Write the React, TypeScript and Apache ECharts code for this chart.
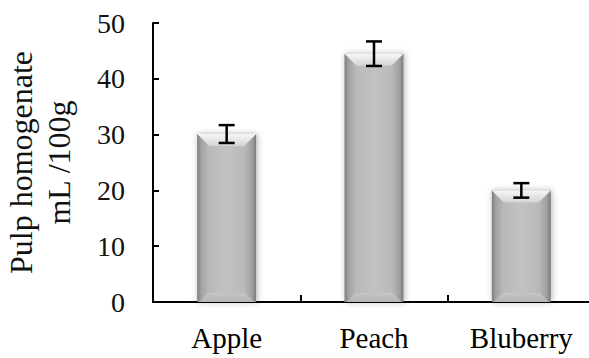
import React, { useEffect, useRef } from "react";
import * as echarts from "echarts";

const categories = ["Apple", "Peach", "Bluberry"];
const values = [30.1, 44.5, 20.0];
const errors = [1.6, 2.2, 1.3];
const yTicks = { min: 0, max: 50, interval: 10 };
const yName = "Pulp homogenate\nmL /100g";

const FONT = "Liberation Serif";

export default function App() {
  const ref = useRef<HTMLDivElement>(null);
  useEffect(() => {
    if (!ref.current) return;
    const chart = echarts.init(ref.current, undefined, { renderer: "svg" });
    const barData = values.map((v, i) => [i, v]);
    const errData = values.map((v, i) => [i, v - errors[i], v + errors[i]]);
    chart.setOption({
      animation: false,
      grid: { left: 153, right: -6, top: 23, bottom: 56, outerBoundsMode: "none", containLabel: false },
      xAxis: {
        type: "category",
        data: categories,
        axisLine: { lineStyle: { color: "#000", width: 2 } },
        axisTick: { show: true, inside: true, length: 7, lineStyle: { color: "#000", width: 2 } },
        axisLabel: { color: "#000", fontFamily: FONT, fontSize: 29, margin: 21 },
      },
      yAxis: {
        type: "value",
        min: yTicks.min,
        max: yTicks.max,
        interval: yTicks.interval,
        name: yName,
        nameLocation: "middle",
        nameRotate: 90,
        nameGap: 75,
        nameTextStyle: { color: "#111", fontFamily: FONT, fontSize: 32, lineHeight: 38 },
        axisLine: { show: true, lineStyle: { color: "#000", width: 2 } },
        axisTick: { show: true, inside: true, length: 6, lineStyle: { color: "#000", width: 2 } },
        axisLabel: { color: "#111", fontFamily: FONT, fontSize: 28, margin: 28 },
        splitLine: { show: false },
      },
      series: [
        {
          type: "custom",
          data: barData,
          renderItem: (params: any, api: any) => {
            const idx = api.value(0);
            const v = api.value(1);
            const top = api.coord([idx, v]);
            const base = api.coord([idx, 0]);
            const w = 59;
            const x0 = top[0] - w / 2;
            const x1 = top[0] + w / 2;
            const y0 = top[1];
            const y1 = base[1];
            const bt = 12;
            const bb = 9;
            return {
              type: "group",
              children: [
                {
                  type: "rect",
                  shape: { x: x0, y: y0, width: w, height: y1 - y0 },
                  style: {
                    fill: new echarts.graphic.LinearGradient(0, 0, 1, 0, [
                      { offset: 0, color: "#7e7e7e" },
                      { offset: 0.07, color: "#a2a2a2" },
                      { offset: 0.2, color: "#b9b9b9" },
                      { offset: 0.5, color: "#c2c2c2" },
                      { offset: 0.8, color: "#b9b9b9" },
                      { offset: 0.93, color: "#a0a0a0" },
                      { offset: 1, color: "#7a7a7a" },
                    ]),
                    shadowBlur: 6,
                    shadowColor: "rgba(0,0,0,0.3)",
                    shadowOffsetX: 1,
                    shadowOffsetY: 0,
                  },
                },
                {
                  type: "polygon",
                  shape: { points: [[x0, y0], [x1, y0], [x1 - bt, y0 + bt], [x0 + bt, y0 + bt]] },
                  style: {
                    fill: new echarts.graphic.LinearGradient(0, 0, 0, 1, [
                      { offset: 0, color: "#f7f7f7" },
                      { offset: 1, color: "#d4d4d4" },
                    ]),
                  },
                },
                {
                  type: "polygon",
                  shape: { points: [[x0 + 2, y1], [x1 - 2, y1], [x1 - bb - 2, y1 - bb], [x0 + bb + 2, y1 - bb]] },
                  style: {
                    fill: new echarts.graphic.LinearGradient(0, 0, 0, 1, [
                      { offset: 0, color: "#c6c6c6" },
                      { offset: 1, color: "#b4b4b4" },
                    ]),
                  },
                },
              ],
            };
          },
          z: 2,
        },
        {
          type: "custom",
          data: errData,
          renderItem: (params: any, api: any) => {
            const idx = api.value(0);
            const lo = api.coord([idx, api.value(1)]);
            const hi = api.coord([idx, api.value(2)]);
            const cx = lo[0];
            const hw = 8;
            const st = { stroke: "#000", lineWidth: 2.5 };
            return {
              type: "group",
              children: [
                { type: "line", shape: { x1: cx, y1: lo[1], x2: cx, y2: hi[1] }, style: st },
                { type: "line", shape: { x1: cx - hw, y1: lo[1], x2: cx + hw, y2: lo[1] }, style: st },
                { type: "line", shape: { x1: cx - hw, y1: hi[1], x2: cx + hw, y2: hi[1] }, style: st },
              ],
            };
          },
          z: 3,
        },
      ],
    });
    return () => chart.dispose();
  }, []);
  return <div ref={ref} style={{ width: 589, height: 358, position: "absolute", left: 0, top: 0 }} />;
}
